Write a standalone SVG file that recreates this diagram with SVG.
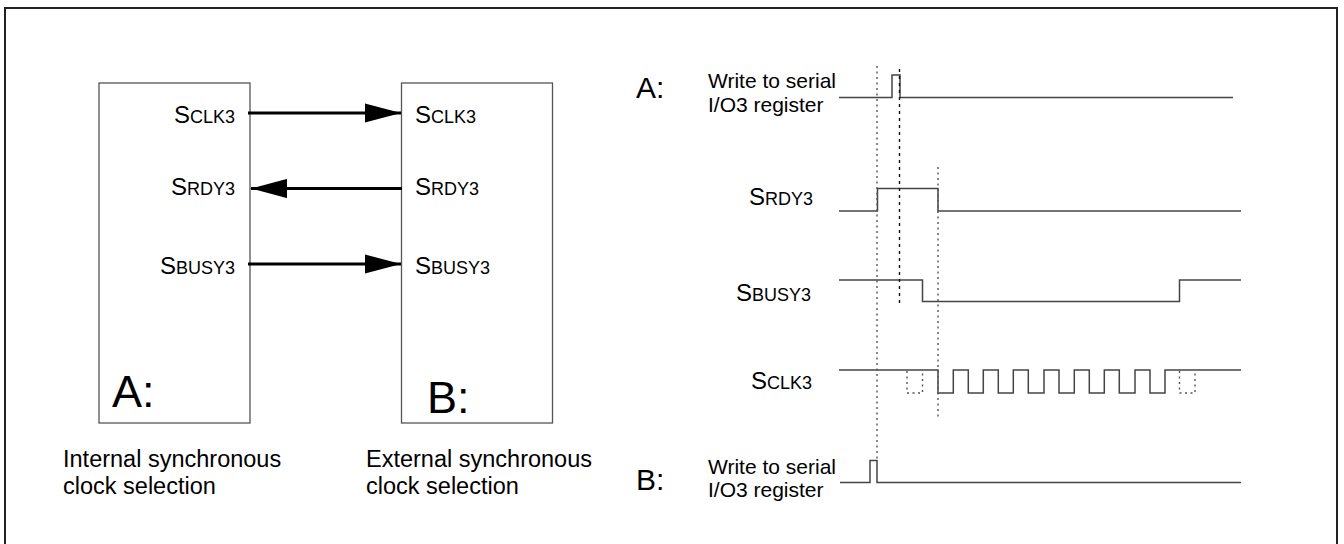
<svg xmlns="http://www.w3.org/2000/svg" width="1344" height="544" viewBox="0 0 1344 544">
<style>
text{font-family:"Liberation Sans",Arial,sans-serif;fill:#000}
.lbl{font-size:24px}
.sc{font-size:18px}
.big{font-size:45px}
.tag{font-size:30px}
.cap{font-size:23.5px}
.wr{font-size:21px}
.box{fill:#fff;stroke:#555;stroke-width:1.3}
.conn{stroke:#000;stroke-width:3;fill:none}
.sig{stroke:#444;stroke-width:1.5;fill:none}
.dot{stroke:#555;stroke-width:1.4;stroke-dasharray:2 3.5;fill:none}
.dash{stroke:#111;stroke-width:1.4;stroke-dasharray:3 4;fill:none}
</style>
<defs>
<marker id="ah" markerWidth="12" markerHeight="6.4" refX="12" refY="3.2" orient="auto" markerUnits="strokeWidth" viewBox="0 0 12 6.4">
<path d="M0,0 L12,3.2 L0,6.4 Z" fill="#000"/>
</marker>
</defs>
<rect x="5" y="8" width="1332" height="540" fill="#fff" stroke="#222" stroke-width="2"/>

<g id="nodeA">
<rect class="box" x="99" y="83" width="151" height="340"/>
<text class="lbl" x="235" y="122.5" text-anchor="end">S<tspan class="sc">CLK3</tspan></text>
<text class="lbl" x="235" y="194.5" text-anchor="end">S<tspan class="sc">RDY3</tspan></text>
<text class="lbl" x="235" y="274" text-anchor="end">S<tspan class="sc">BUSY3</tspan></text>
<text class="big" x="112" y="407">A:</text>
</g>
<g id="nodeB">
<rect class="box" x="401.5" y="83" width="151" height="340"/>
<text class="lbl" x="415" y="122.5">S<tspan class="sc">CLK3</tspan></text>
<text class="lbl" x="415" y="194.5">S<tspan class="sc">RDY3</tspan></text>
<text class="lbl" x="415" y="274">S<tspan class="sc">BUSY3</tspan></text>
<text class="big" x="427" y="413">B:</text>
</g>
<g id="captions">
<text class="cap" x="63" y="467">Internal synchronous</text>
<text class="cap" x="63" y="494">clock selection</text>
<text class="cap" x="366" y="467">External synchronous</text>
<text class="cap" x="366" y="494">clock selection</text>
</g>
<g id="connectors">
<line class="conn" x1="248" y1="113" x2="401" y2="113" marker-end="url(#ah)"/>
<line class="conn" x1="402" y1="188.5" x2="251" y2="188.5" marker-end="url(#ah)"/>
<line class="conn" x1="248" y1="264" x2="401" y2="264" marker-end="url(#ah)"/>
</g>

<g id="timing">
<text class="tag" x="636" y="97.5">A:</text>
<text class="wr" x="708" y="87.5">Write to serial</text>
<text class="wr" x="708" y="111.5">I/O3 register</text>
<polyline class="sig" points="839,97.5 892,97.5 892,75 900,75 900,97.5 1233,97.5"/>

<text class="lbl" x="813" y="205" text-anchor="end">S<tspan class="sc">RDY3</tspan></text>
<polyline class="sig" points="839,211 877.5,211 877.5,188.5 938,188.5 938,211 1241,211"/>

<text class="lbl" x="811" y="300.5" text-anchor="end">S<tspan class="sc">BUSY3</tspan></text>
<polyline class="sig" points="839,280 922.5,280 922.5,301.5 1179.5,301.5 1179.5,280 1241,280"/>

<text class="lbl" x="812" y="389" text-anchor="end">S<tspan class="sc">CLK3</tspan></text>
<polyline class="sig" points="839,370 938,370 938,393 953.3,393 953.3,370 968.3,370 968.3,393 983.3,393 983.3,370 998.3,370 998.3,393 1013.3,393 1013.3,370 1028.3,370 1028.3,393 1044,393 1044,370 1059,370 1059,393 1074.3,393 1074.3,370 1089.3,370 1089.3,393 1104.3,393 1104.3,370 1119.3,370 1119.3,393 1135,393 1135,370 1150,370 1150,393 1165,393 1165,370 1241,370"/>
<polyline class="dot" points="907,371 907,393 922.5,393 922.5,371"/>
<polyline class="dot" points="1179.5,371 1179.5,393 1195,393 1195,371"/>

<text class="tag" x="636" y="490">B:</text>
<text class="wr" x="708" y="473.5">Write to serial</text>
<text class="wr" x="708" y="497">I/O3 register</text>
<polyline class="sig" points="840,482.5 870,482.5 870,460.5 877,460.5 877,482.5 1241,482.5"/>

<line class="dot" x1="877" y1="66" x2="877" y2="460"/>
<line class="dash" x1="899.5" y1="69" x2="899.5" y2="303"/>
<line class="dot" x1="938" y1="167" x2="938" y2="417"/>
</g>
</svg>
